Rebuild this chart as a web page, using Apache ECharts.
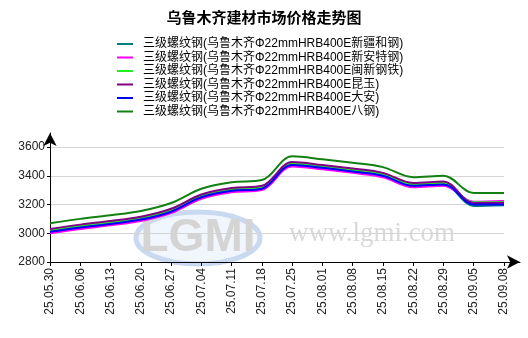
<!DOCTYPE html>
<html><head><meta charset="utf-8">
<script src="https://cdn.jsdelivr.net/npm/echarts@6/dist/echarts.min.js"></script>
<style>html,body{margin:0;padding:0;background:#fff}#c{width:528px;height:338px}</style>
</head><body><div id="c"></div>
<script>
const title = '乌鲁木齐建材市场价格走势图';
const dates = ['25.05.30','25.06.06','25.06.13','25.06.20','25.06.27','25.07.04','25.07.11','25.07.18','25.07.25','25.08.01','25.08.08','25.08.15','25.08.22','25.08.29','25.09.05','25.09.08'];
const names = ['三级螺纹钢(乌鲁木齐Φ22mmHRB400E新疆和钢)','三级螺纹钢(乌鲁木齐Φ22mmHRB400E新安特钢)','三级螺纹钢(乌鲁木齐Φ22mmHRB400E闽新钢铁)','三级螺纹钢(乌鲁木齐Φ22mmHRB400E昆玉)','三级螺纹钢(乌鲁木齐Φ22mmHRB400E大安)','三级螺纹钢(乌鲁木齐Φ22mmHRB400E八钢)'];
const xinjiangHegang = [3010,3040,3065,3095,3150,3250,3295,3310,3475,3455,3430,3400,3330,3340,3190,3195];
const xinante = [3000,3030,3055,3085,3140,3240,3285,3300,3465,3445,3420,3390,3320,3330,3220,3225];
const minxin = [3020,3050,3075,3105,3160,3260,3305,3320,3485,3465,3440,3410,3340,3350,3215,3215];
const kunyu = [3030,3060,3085,3115,3170,3270,3315,3330,3495,3475,3450,3420,3350,3360,3210,3210];
const daan = [3010,3040,3065,3095,3150,3250,3295,3310,3475,3455,3430,3400,3330,3340,3200,3200];
const bagang = [3070,3100,3125,3155,3210,3310,3355,3370,3535,3515,3490,3460,3390,3400,3280,3280];
const yTicks = [2800,3000,3200,3400,3600];
const colors = ['#008080','#ff00ff','#22ee22','#800080','#0000ff','#138013'];
const seriesData = [xinjiangHegang, xinante, minxin, kunyu, daan, bagang];

const font = "'Liberation Sans', Arial, 'Noto Sans CJK SC', sans-serif";
const chart = echarts.init(document.getElementById('c'));
chart.setOption({
  animation: false,
  backgroundColor: '#fff',
  title: { text: title, left: 'center', top: 5, textStyle: { fontSize: 15, fontWeight: 'bold', color: '#000', fontFamily: "'Noto Sans CJK SC', sans-serif" } },
  legend: {
    orient: 'vertical', left: 112, top: 33, icon: 'rect', itemWidth: 16, itemHeight: 2, itemGap: 1.5,
    textStyle: { fontSize: 12, color: '#000', fontFamily: font, padding: [0,0,0,5], lineHeight: 12 },
    data: names
  },
  graphic: [
    { type: 'ellipse', shape: { cx: 198, cy: 238, rx: 62, ry: 26 }, style: { fill: 'rgba(215,228,245,0.35)', stroke: '#c9d9ef', lineWidth: 5 }, z: -10, silent: true },
    { type: 'text', x: 198, y: 238, style: { text: 'LGMI', fontSize: 46, fontWeight: 'bold', fill: '#d4d4d4', align: 'center', verticalAlign: 'middle', fontFamily: font }, z: -9, silent: true },
    { type: 'text', x: 372, y: 234, style: { text: 'www.lgmi.com', fontSize: 27, fill: '#d9d9d9', align: 'center', verticalAlign: 'middle', fontFamily: "'Liberation Serif', serif" }, z: -9, silent: true }
  ],
  grid: [
    { left: 50, right: 24, top: 147, bottom: 76 },
    { left: 50, right: 8, top: 133, bottom: 76 }
  ],
  xAxis: [
    { type: 'category', gridIndex: 0, data: dates, boundaryGap: false,
      axisLine: { show: false },
      axisTick: { show: true, length: 4, lineStyle: { color: '#000' } },
      axisLabel: { rotate: 90, interval: 0, fontSize: 12, color: '#222', fontFamily: font, margin: 6 },
      splitLine: { show: false } },
    { type: 'value', gridIndex: 1, min: 0, max: 1, axisLabel: { show: false }, axisTick: { show: false }, splitLine: { show: false },
      axisLine: { show: true, onZero: false, symbol: ['none','arrow'], symbolSize: [10, 13], lineStyle: { color: '#000', width: 1 } } }
  ],
  yAxis: [
    { type: 'value', gridIndex: 0, min: yTicks[0], max: yTicks[yTicks.length-1], interval: 200,
      axisLine: { show: false },
      axisTick: { show: true, length: 3, lineStyle: { color: '#000' } },
      axisLabel: { fontSize: 12, color: '#222', fontFamily: font, margin: 5, formatter: v => String(v) },
      splitLine: { show: true, lineStyle: { color: '#d4d4d4', width: 1 } } },
    { type: 'value', gridIndex: 1, min: 0, max: 1, axisLabel: { show: false }, axisTick: { show: false }, splitLine: { show: false },
      axisLine: { show: true, onZero: false, symbol: ['none','arrow'], symbolSize: [10, 13], lineStyle: { color: '#000', width: 1 } } }
  ],
  series: names.map((n, i) => ({
    name: n, type: 'line', xAxisIndex: 0, yAxisIndex: 0, data: seriesData[i], smooth: 0.35,
    symbol: 'none', color: colors[i], lineStyle: { width: 2, color: colors[i] }, z: 2 + i
  }))
});
</script></body></html>
